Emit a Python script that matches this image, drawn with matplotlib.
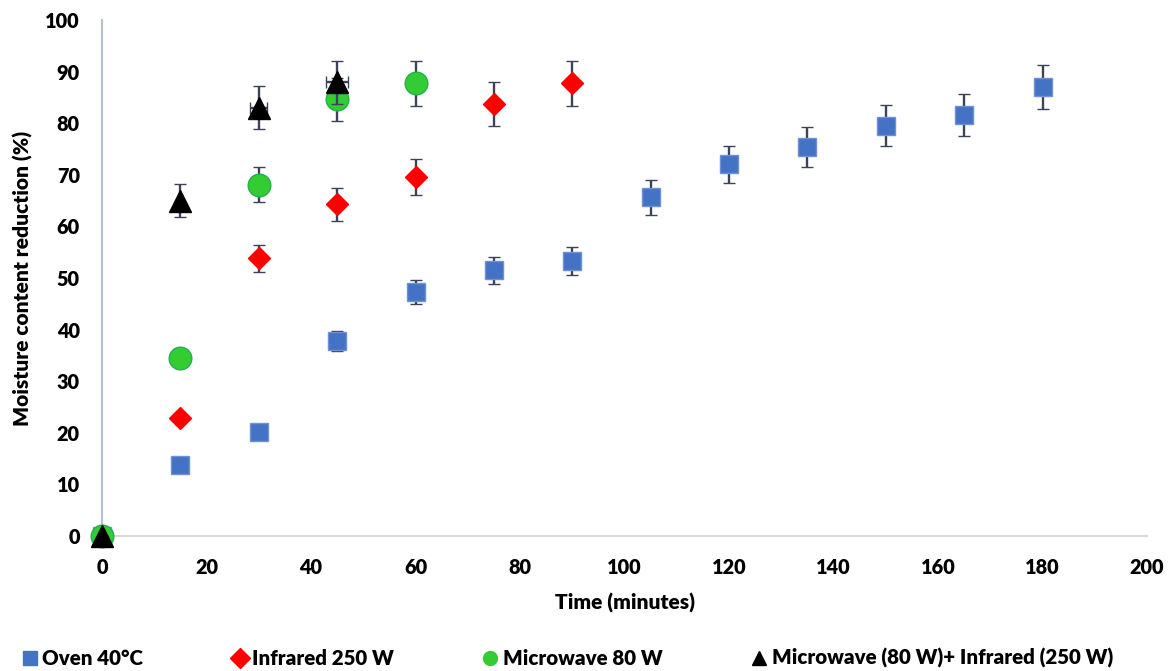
import numpy as np
import matplotlib
matplotlib.use("Agg")
import matplotlib.pyplot as plt

# ---------------------------
# Data (time in minutes, moisture reduction in %)
# ---------------------------
oven_t = [0, 15, 30, 45, 60, 75, 90, 105, 120, 135, 150, 165, 180]
oven_y = [0, 13.8, 20.2, 37.8, 47.3, 51.5, 53.3, 65.6, 72.0, 75.4, 79.5, 81.6, 87.0]
oven_err = [0, 0.8, 0.8, 1.9, 2.4, 2.6, 2.7, 3.3, 3.6, 3.8, 4.0, 4.1, 4.3]

ir_t = [15, 30, 45, 60, 75, 90]
ir_y = [22.9, 53.8, 64.3, 69.5, 83.7, 87.7]
ir_err = [0.8, 2.65, 3.2, 3.5, 4.2, 4.4]

mw_t = [0, 15, 30, 45, 60]
mw_y = [0, 34.5, 68.1, 84.6, 87.7]
mw_err = [0, 1.0, 3.4, 4.2, 4.4]

combo_t = [0, 15, 30, 45]
combo_y = [0, 65.0, 83.0, 87.9]
combo_err = [0, 3.2, 4.2, 4.2]
combo_xerr = [0, 0, 1.6, 2.1]

labels = ["Oven 40°C", "Infrared 250 W", "Microwave 80 W",
          "Microwave (80 W)+ Infrared (250 W)"]

plt.rcParams["font.family"] = ["Lato", "DejaVu Sans"]
plt.rcParams["font.weight"] = "heavy"

FS = 14.3

fig = plt.figure(figsize=(11.74, 6.71), dpi=100)
ax = fig.add_axes([0.0869, 0.2012, 0.8901, 0.769])

err_style = dict(ecolor="#3b4456", elinewidth=1.7, capsize=4.4, capthick=1.8,
                 linestyle="none", clip_on=False)

series = [
    (oven_t, oven_y, oven_err, None, "s", 13.2, "#4472c4", "#6f92d6"),
    (ir_t, ir_y, ir_err, None, "D", 11.2, "#ff0000", "#ff0000"),
    (mw_t, mw_y, mw_err, None, "o", 16.3, "#33cc33", "#22b14c"),
    (combo_t, combo_y, combo_err, combo_xerr, "^", 16.3, "#000000", "#000000"),
]

handles = []
for i, (t, y, e, xe, mk, ms, fc, ec) in enumerate(series):
    eb = ax.errorbar(t, y, yerr=e, xerr=xe, marker=mk, markersize=ms,
                     markerfacecolor=fc, markeredgecolor=ec, markeredgewidth=1,
                     zorder=3 + i, **err_style)
    # markers sit on top of their own error bars
    eb.lines[0].set_zorder(3.5 + i)
    eb.lines[0].set_clip_on(False)
    for art in eb.lines[1] + eb.lines[2]:
        art.set_clip_on(False)
        art.set_zorder(3 + i)
    h, = ax.plot([], [], linestyle="none", marker=mk, markersize=10,
                 markerfacecolor=fc, markeredgecolor=fc, label=labels[i])
    handles.append(h)

ax.set_xlim(0, 200)
ax.set_ylim(0, 100)
ax.set_xticks(range(0, 201, 20))
ax.set_yticks(range(0, 101, 10))
ax.tick_params(length=0, labelsize=FS, pad=16)
for lab in ax.get_xticklabels() + ax.get_yticklabels():
    lab.set_fontweight("heavy")

for side in ["top", "right"]:
    ax.spines[side].set_visible(False)
ax.spines["left"].set_color("#b4bfd4")
ax.spines["left"].set_linewidth(1.5)
ax.spines["bottom"].set_color("#d9d9d9")
ax.spines["bottom"].set_linewidth(1.5)

ax.set_xlabel("Time (minutes)", fontsize=15, fontweight="heavy", labelpad=11)
ax.set_ylabel("Moisture content reduction (%)", fontsize=15,
              fontweight="heavy", labelpad=9)

fig.legend(handles=handles, loc="center", bbox_to_anchor=(0.484, 0.019),
           ncol=4, frameon=False, fontsize=14.8, handlelength=0.6,
           handletextpad=0.3, columnspacing=4.4, borderaxespad=0)

fig.savefig("out.png", dpi=100)
